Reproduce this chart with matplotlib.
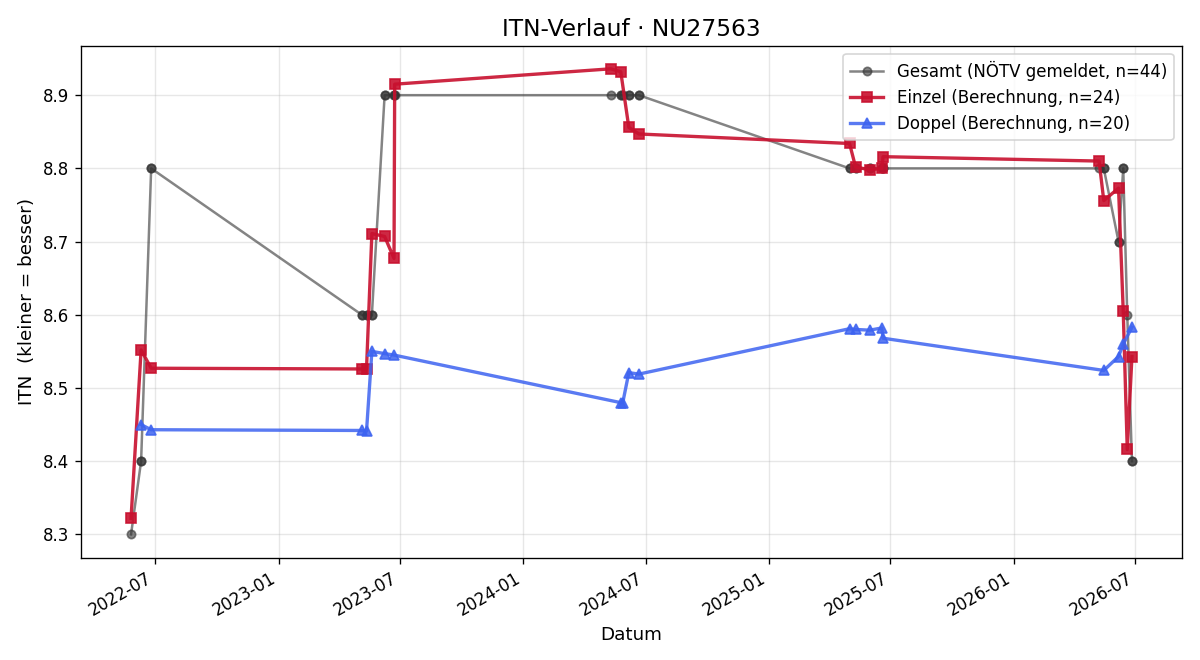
import matplotlib
matplotlib.use("Agg")
import matplotlib.pyplot as plt
import matplotlib.dates as mdates
import numpy as np

# Einzel-Berechnung
einzel_datum = ["2022-05-26", "2022-06-10", "2022-06-25",
                "2023-05-05", "2023-05-12", "2023-05-20", "2023-06-08", "2023-06-22", "2023-06-23",
                "2024-05-10", "2024-05-25", "2024-06-06", "2024-06-21",
                "2025-05-01", "2025-05-10", "2025-05-31", "2025-06-18", "2025-06-20",
                "2026-05-08", "2026-05-15", "2026-06-06", "2026-06-13", "2026-06-19", "2026-06-26"]
einzel_itn = [8.322, 8.552, 8.527,
              8.526, 8.526, 8.711, 8.707, 8.677, 8.915,
              8.936, 8.932, 8.856, 8.847,
              8.834, 8.802, 8.798, 8.800, 8.816,
              8.810, 8.756, 8.773, 8.605, 8.416, 8.543]

# Doppel-Berechnung
doppel_datum = ["2022-06-10", "2022-06-25",
                "2023-05-05", "2023-05-12", "2023-05-20", "2023-06-08", "2023-06-22",
                "2024-05-25", "2024-05-28", "2024-06-06", "2024-06-21",
                "2025-05-01", "2025-05-10", "2025-05-31", "2025-06-18", "2025-06-20",
                "2026-05-15", "2026-06-06", "2026-06-13", "2026-06-26"]
doppel_itn = [8.450, 8.443,
              8.442, 8.441, 8.550, 8.547, 8.545,
              8.480, 8.480, 8.521, 8.519,
              8.581, 8.580, 8.579, 8.582, 8.568,
              8.524, 8.543, 8.560, 8.583]

# Gesamt (gemeldet) - ein Eintrag pro Spiel, daher doppelte Tage
gesamt_datum = ["2022-05-26", "2022-06-10", "2022-06-10", "2022-06-25", "2022-06-25",
                "2023-05-05", "2023-05-05", "2023-05-12", "2023-05-12", "2023-05-20", "2023-05-20",
                "2023-06-08", "2023-06-08", "2023-06-22", "2023-06-22", "2023-06-23",
                "2024-05-10", "2024-05-25", "2024-05-25", "2024-05-28", "2024-06-06", "2024-06-06",
                "2024-06-21", "2024-06-21",
                "2025-05-01", "2025-05-01", "2025-05-10", "2025-05-10", "2025-05-31", "2025-05-31",
                "2025-06-18", "2025-06-18", "2025-06-20", "2025-06-20",
                "2026-05-08", "2026-05-15", "2026-05-15", "2026-06-06", "2026-06-06",
                "2026-06-13", "2026-06-13", "2026-06-19", "2026-06-26", "2026-06-26"]
gesamt_itn = [8.3, 8.4, 8.4, 8.8, 8.8,
              8.6, 8.6, 8.6, 8.6, 8.6, 8.6,
              8.9, 8.9, 8.9, 8.9, 8.9,
              8.9, 8.9, 8.9, 8.9, 8.9, 8.9,
              8.9, 8.9,
              8.8, 8.8, 8.8, 8.8, 8.8, 8.8,
              8.8, 8.8, 8.8, 8.8,
              8.8, 8.8, 8.8, 8.7, 8.7,
              8.8, 8.8, 8.6, 8.4, 8.4]

fig, ax = plt.subplots(figsize=(10, 5.5), dpi=120)

ax.plot(np.array(gesamt_datum, dtype="datetime64[D]"), gesamt_itn,
        color="#333333", alpha=0.6, lw=1.5, marker="o", markersize=5,
        label="Gesamt (NÖTV gemeldet, n=44)")
ax.plot(np.array(einzel_datum, dtype="datetime64[D]"), einzel_itn,
        color="#c8102e", alpha=0.9, lw=2, marker="s", markersize=6,
        label="Einzel (Berechnung, n=24)")
ax.plot(np.array(doppel_datum, dtype="datetime64[D]"), doppel_itn,
        color="#3d63f0", alpha=0.85, lw=2, marker="^", markersize=6,
        label="Doppel (Berechnung, n=20)")

ax.set_title("ITN-Verlauf · NU27563", fontsize=14)
ax.set_xlabel("Datum", fontsize=11)
ax.set_ylabel("ITN  (kleiner = besser)", fontsize=11)
ax.grid(alpha=0.3)
ax.xaxis.set_major_locator(mdates.MonthLocator(bymonth=[1, 7]))
ax.xaxis.set_major_formatter(mdates.DateFormatter("%Y-%m"))
ax.legend(loc="upper right", fontsize=10)
fig.autofmt_xdate()

fig.subplots_adjust(left=0.0675, right=0.985, top=0.931, bottom=0.155)
fig.savefig("out.png")
